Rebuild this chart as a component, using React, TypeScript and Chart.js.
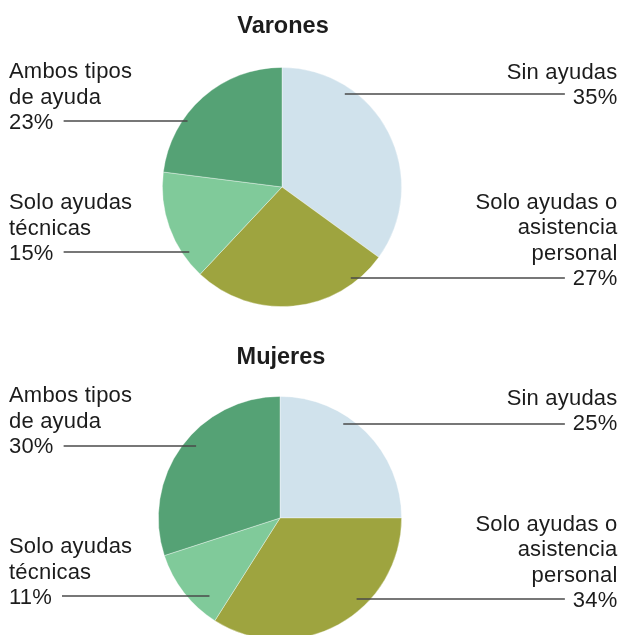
import React, { useEffect, useRef } from "react";
import { Chart, registerables } from "chart.js";

Chart.register(...registerables);

const categories = [
  "Sin ayudas",
  "Solo ayudas o asistencia personal",
  "Solo ayudas técnicas",
  "Ambos tipos de ayuda",
];
const categoryLines = [
  ["Sin ayudas"],
  ["Solo ayudas o", "asistencia", "personal"],
  ["Solo ayudas", "técnicas"],
  ["Ambos tipos", "de ayuda"],
];
const varonesValues = [35, 27, 15, 23];
const mujeresValues = [25, 34, 11, 30];
const sliceColors = ["#d0e2ec", "#9ea43f", "#80ca9a", "#55a275"];
const labelSides = ["right", "right", "left", "left"];

const FONT = '"Liberation Sans", Arial, Helvetica, sans-serif';

const calloutPlugin = {
  id: "callouts",
  afterDraw(chart: any, _args: any, opts: any) {
    const ctx = chart.ctx as CanvasRenderingContext2D;
    const meta = chart.getDatasetMeta(0);
    const values = chart.data.datasets[0].data as number[];
    ctx.save();
    const a0 = meta.data[0] as any;
    ctx.fillStyle = "#1c1c1c";
    ctx.font = `bold 23.5px ${FONT}`;
    ctx.textAlign = "center";
    ctx.textBaseline = "middle";
    (ctx as any).letterSpacing = "0px";
    ctx.fillText(opts.title, a0.x + 1, opts.titleY);

    ctx.font = `22px ${FONT}`;
    (ctx as any).letterSpacing = "0.2px";
    const lh = 25.5;
    for (let i = 0; i < values.length; i++) {
      const arc = meta.data[i] as any;
      const lines = [...categoryLines[i], `${values[i]}%`];
      const side = labelSides[i];
      const ly = opts.lineY[i];
      const innerX = arc.x + opts.innerFrac[i] * arc.outerRadius;
      const lastMid = ly + opts.textShift[i];
      ctx.textBaseline = "middle";
      lines.forEach((t, k) => {
        const y = lastMid - (lines.length - 1 - k) * lh;
        if (side === "left") {
          ctx.textAlign = "left";
          ctx.fillText(t, 9, y);
        } else {
          ctx.textAlign = "right";
          ctx.fillText(t, 617.5, y);
        }
      });
      const lastW = ctx.measureText(lines[lines.length - 1]).width;
      const outerX = side === "left" ? 9 + lastW + 10 : 617.5 - lastW - 8;
      ctx.strokeStyle = "#4a4a4a";
      ctx.lineWidth = 1.3;
      ctx.beginPath();
      ctx.moveTo(outerX, ly);
      ctx.lineTo(innerX, ly);
      ctx.stroke();
    }
    ctx.restore();
  },
};

function PieChart(props: {
  values: number[];
  width: number;
  height: number;
  padding: any;
  title: string;
  titleY: number;
  lineY: number[];
  innerFrac: number[];
  textShift: number[];
}) {
  const ref = useRef<HTMLCanvasElement | null>(null);
  useEffect(() => {
    if (!ref.current) return;
    const chart = new Chart(ref.current, {
      type: "pie",
      data: {
        labels: categories,
        datasets: [
          {
            data: props.values,
            backgroundColor: sliceColors,
            borderColor: "rgba(255,255,255,0.45)",
            borderWidth: 0.8,
          },
        ],
      },
      options: {
        responsive: false,
        animation: false,
        devicePixelRatio: 1,
        layout: { padding: props.padding },
        plugins: {
          legend: { display: false },
          tooltip: { enabled: false },
          title: { display: false },
          callouts: {
            title: props.title,
            titleY: props.titleY,
            lineY: props.lineY,
            innerFrac: props.innerFrac,
            textShift: props.textShift,
          },
        } as any,
      },
      plugins: [calloutPlugin],
    });
    return () => chart.destroy();
  }, []);
  return (
    <canvas
      ref={ref}
      width={props.width}
      height={props.height}
      style={{ display: "block", width: props.width, height: props.height }}
    />
  );
}

export default function App() {
  return (
    <div
      style={{
        position: "fixed",
        left: 0,
        top: 0,
        width: 620,
        height: 635,
        overflow: "hidden",
        background: "#fff",
      }}
    >
      <div style={{ position: "absolute", left: 0, top: 0 }}>
        <PieChart
          values={varonesValues}
          width={620}
          height={318}
          padding={{ left: 162, right: 218, top: 67, bottom: 11 }}
          title="Varones"
          titleY={27}
          lineY={[94, 278, 252, 121]}
          innerFrac={[0.525, 0.575, -0.775, -0.79]}
          textShift={[4, 1, 2, 2]}
        />
      </div>
      <div style={{ position: "absolute", left: 0, top: 318 }}>
        <PieChart
          values={mujeresValues}
          width={620}
          height={340}
          padding={{ left: 158, right: 218, top: 78, bottom: 18 }}
          title="Mujeres"
          titleY={40}
          lineY={[106, 281, 278, 128]}
          innerFrac={[0.52, 0.63, -0.58, -0.69]}
          textShift={[0, 2, 2, 1]}
        />
      </div>
    </div>
  );
}
